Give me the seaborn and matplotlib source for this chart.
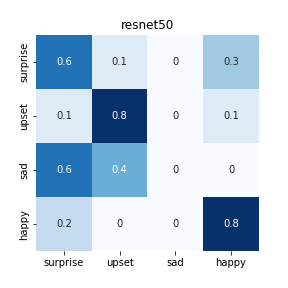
import matplotlib
matplotlib.use('Agg')
import matplotlib.pyplot as plt
import seaborn as sns
import numpy as np

labels = ['surprise', 'upset', 'sad', 'happy']
row_surprise = [0.6, 0.1, 0.0, 0.3]
row_upset = [0.1, 0.8, 0.0, 0.1]
row_sad = [0.6, 0.4, 0.0, 0.0]
row_happy = [0.2, 0.0, 0.0, 0.8]

cm = np.array([row_surprise, row_upset, row_sad, row_happy])

fig, ax = plt.subplots(figsize=(4, 4), dpi=72)
fig.subplots_adjust(left=0.125, right=0.899, top=0.88, bottom=0.127)
sns.heatmap(cm, annot=True, cmap='Blues', cbar=False,
            xticklabels=labels, yticklabels=labels, ax=ax)
ax.set_title('resnet50')

plt.savefig('out.png', dpi=72)
